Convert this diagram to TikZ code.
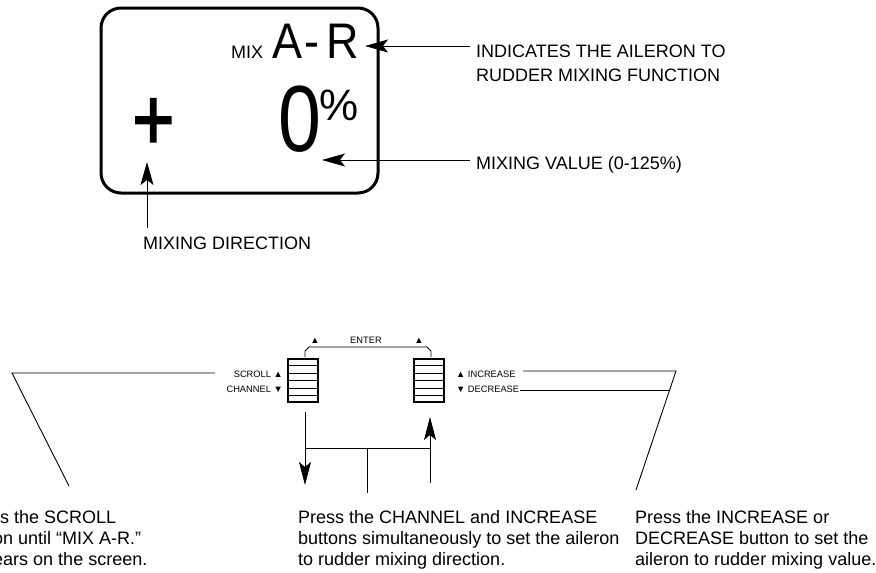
\documentclass[tikz,border=0pt]{standalone}
\usepackage{fontspec}
\usepackage{graphicx}
\setmainfont{Liberation Sans}
\newfontfamily\plusfont[FakeBold=2]{Liberation Sans}
\usetikzlibrary{arrows.meta,calc}
\tikzset{
  thin line/.style={line width=0.9pt},
  bigarrow/.style={thin line,-{Stealth[length=23pt,width=13pt,inset=5pt]}},
  midarrow/.style={thin line,-{Stealth[length=23pt,width=12pt,inset=5pt]}},
  lbl/.style={inner sep=0pt,font=\fontsize{18}{21}\selectfont},
  small/.style={inner sep=0pt,font=\fontsize{9.3}{12}\selectfont},
  btn/.style={draw,line width=2pt,minimum width=30pt,minimum height=43pt,inner sep=0pt},
}
\begin{document}
\begin{tikzpicture}[x=1pt,y=-1pt]
\useasboundingbox (0,0) rectangle (876,573);
\clip (0,0) rectangle (876,573);
% display
\node[draw,line width=3pt,rounded corners=20pt,minimum width=277pt,minimum height=185pt,inner sep=0pt] (disp) at (239.5,100.5) {};
\node[inner sep=0pt,anchor=base west,font=\fontsize{18}{18}\selectfont] (mix) at (231,58) {MIX};
\node[inner sep=0pt,anchor=base west,font=\fontsize{50}{50}\selectfont] (ar) at (272,58) {\scalebox{0.9}[1]{A\kern3pt-\kern7pt R}};
\node[inner sep=0pt,anchor=base west,font=\fontsize{94}{94}\selectfont] (zero) at (278,151) {\scalebox{0.82}[1]{0}};
\node[inner sep=0pt,anchor=base west,font=\fontsize{44}{44}\selectfont] (pct) at (319.5,120) {\%};
\node[inner sep=0pt,anchor=base west,font=\plusfont\fontsize{88}{88}\selectfont] (plus) at (132,149.5) {\scalebox{0.82}[1]{+}};
% labels
\node[lbl,anchor=north west,align=left,font=\fontsize{18}{24}\selectfont] (ind) at (476,45) {INDICATES THE AILERON TO\\RUDDER MIXING FUNCTION};
\node[lbl,anchor=base west] (val) at (476,169) {MIXING VALUE (0-125\%)};
\node[lbl,anchor=base west] (dir) at (143,249) {MIXING DIRECTION};
\coordinate (a1s) at (470,46);
\coordinate (a1e) at (365,46);
\coordinate (a2s) at (470,160);
\coordinate (a2e) at (322,160);
\coordinate (a3s) at (147,228);
\coordinate (a3e) at (147,162);
\draw[bigarrow] (a1s) -- (a1e);
\draw[bigarrow] (a2s) -- (a2e);
\draw[bigarrow] (a3s) -- (a3e);
% buttons
\node[btn] (bl) at (303,380.5) {};
\node[btn] (br) at (429,380.5) {};
\foreach \b in {bl,br}{
  \foreach \f in {1,...,5}{
    \draw[line width=0.8pt] ($(\b.north west)!\f/6!(\b.south west)$) -- ($(\b.north east)!\f/6!(\b.south east)$);
  }
}
\node[small,anchor=base] (enter) at (366,343) {ENTER};
\node[small,anchor=base] (tl) at (315,343) {▲};
\node[small,anchor=base] (tr) at (419,343) {▲};
\coordinate (bk1) at (305,357);
\coordinate (bk2) at (431,357);
\draw[thin line] (bk1) -- ++(0,-6) -- ++(4,-4) -- ++(118,0) -- ++(4,4) -- (bk2);
\node[small,anchor=base east] (scroll) at (283,377) {SCROLL ▲};
\node[small,anchor=base east] (chan) at (283,392) {CHANNEL ▼};
\node[small,anchor=base west] (inc) at (456,377) {▲ INCREASE};
\node[small,anchor=base west] (dec) at (456,392) {▼ DECREASE};
% leaders
\coordinate (s1) at (215,373);
\coordinate (s2) at (12,373);
\coordinate (s3) at (69,486);
\draw[thin line] (s1) -- (s2) -- (s3);
\coordinate (i1) at (523,371);
\coordinate (i2) at (676,371);
\coordinate (i3) at (636,490);
\draw[thin line] (i1) -- (i2) -- (i3);
\coordinate (d1) at (520,390);
\coordinate (d2) at (669.6,390);
\draw[thin line] (d1) -- (d2);
% lower arrows
\coordinate (l1) at (305,412);
\coordinate (l2) at (305,485);
\coordinate (lj) at (305,448);
\coordinate (rj) at (430,448);
\coordinate (r1) at (430,483);
\coordinate (r2) at (430,417);
\coordinate (m1) at (367,448);
\coordinate (m2) at (367,493);
\draw[midarrow] (l1) -- (l2);
\draw[midarrow] (r1) -- (r2);
\draw[thin line] (lj) -- (rj);
\draw[thin line] (m1) -- (m2);
% bottom texts
\node[lbl,anchor=north west,align=left] (t1) at (-37,510) {Press the SCROLL\\button until “MIX A-R.”\\appears on the screen.};
\node[lbl,anchor=north west,align=left] (t2) at (298,510) {Press the CHANNEL and INCREASE\\buttons simultaneously to set the aileron\\to rudder mixing direction.};
\node[lbl,anchor=north west,align=left] (t3) at (635,510) {Press the INCREASE or\\DECREASE button to set the\\aileron to rudder mixing value.};
\end{tikzpicture}
\end{document}
